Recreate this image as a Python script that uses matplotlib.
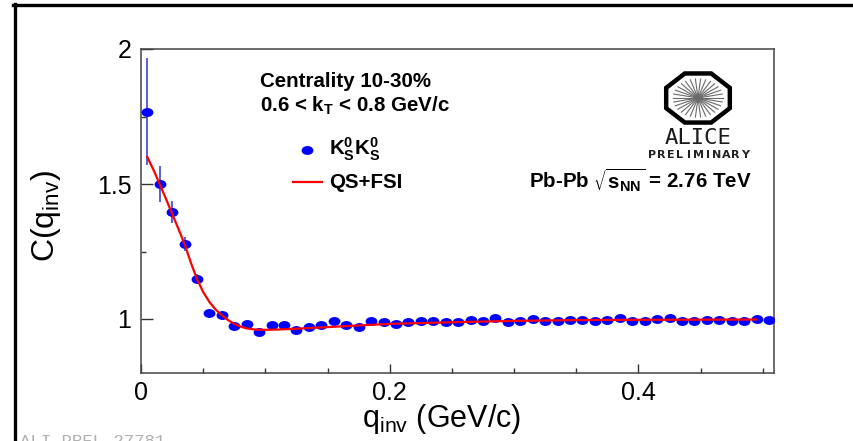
import numpy as np
import matplotlib
matplotlib.use("Agg")
import matplotlib.pyplot as plt
from matplotlib.path import Path
from matplotlib.transforms import Affine2D
from matplotlib.lines import Line2D
from matplotlib.patches import Polygon
from matplotlib.ticker import MultipleLocator, FixedLocator, FixedFormatter

plt.rcParams['font.family'] = ['Liberation Sans', 'DejaVu Sans']
plt.rcParams['mathtext.default'] = 'regular'

# K0s K0s correlation function, Pb-Pb 2.76 TeV, centrality 10-30%, 0.6<kT<0.8
q_inv = [0.005, 0.015, 0.025, 0.035, 0.045, 0.055, 0.065, 0.075, 0.085, 0.095,
         0.105, 0.115, 0.125, 0.135, 0.145, 0.155, 0.165, 0.175, 0.185, 0.195,
         0.205, 0.215, 0.225, 0.235, 0.245, 0.255, 0.265, 0.275, 0.285, 0.295,
         0.305, 0.315, 0.325, 0.335, 0.345, 0.355, 0.365, 0.375, 0.385, 0.395,
         0.405, 0.415, 0.425, 0.435, 0.445, 0.455, 0.465, 0.475, 0.485, 0.495,
         0.505]
c_q = [1.768, 1.500, 1.396, 1.278, 1.149, 1.023, 1.014, 0.975, 0.981, 0.951,
       0.977, 0.977, 0.961, 0.971, 0.976, 0.991, 0.977, 0.970, 0.992, 0.988,
       0.982, 0.988, 0.992, 0.992, 0.990, 0.988, 0.997, 0.994, 1.002, 0.990,
       0.993, 1.001, 0.993, 0.994, 0.996, 0.998, 0.993, 0.997, 1.003, 0.992,
       0.994, 1.001, 1.004, 0.993, 0.994, 0.998, 0.997, 0.992, 0.994, 1.001,
       0.998]
c_err = [0.197, 0.067, 0.042, 0.026, 0.017, 0.012, 0.010, 0.009, 0.008, 0.008,
         0.007, 0.007, 0.007, 0.007, 0.006, 0.006, 0.006, 0.006, 0.006, 0.006,
         0.005, 0.005, 0.005, 0.005, 0.005, 0.005, 0.005, 0.005, 0.005, 0.005,
         0.005, 0.005, 0.005, 0.005, 0.005, 0.005, 0.005, 0.005, 0.005, 0.005,
         0.005, 0.005, 0.005, 0.005, 0.005, 0.005, 0.005, 0.005, 0.005, 0.005,
         0.005]

# QS+FSI fit curve
fit_q = [0.005, 0.010, 0.015, 0.020, 0.025, 0.030, 0.035, 0.040, 0.045, 0.050,
         0.055, 0.060, 0.065, 0.070, 0.075, 0.080, 0.085, 0.090, 0.095, 0.100,
         0.110, 0.125, 0.150, 0.200, 0.250, 0.300, 0.350, 0.400, 0.495]
fit_c = [1.600, 1.553, 1.500, 1.446, 1.390, 1.335, 1.278, 1.210, 1.148, 1.100,
         1.063, 1.035, 1.014, 0.996, 0.982, 0.972, 0.965, 0.962, 0.960, 0.960,
         0.961, 0.964, 0.970, 0.982, 0.988, 0.993, 0.996, 0.997, 0.998]

x_ticks = [0, 0.2, 0.4]
x_ticklabels = ['0', '0.2', '0.4']
y_ticks = [1, 1.5, 2]
y_ticklabels = ['1', '1.5', '2']

W, H = 854, 441


def fx(px):
    return px / W


def fy(py):
    return 1 - py / H


fig = plt.figure(figsize=(W / 100, H / 100), dpi=100)

ax = fig.add_axes([fx(141), fy(373), (774 - 141) / W, (373 - 49) / H])

# ellipse marker (picture is squashed vertically)
ellipse = Path.unit_circle().transformed(Affine2D().scale(1.0, 0.72))

ax.errorbar(q_inv, c_q, yerr=c_err, fmt='none', ecolor='#2a36d6',
            elinewidth=1.1, capsize=0, zorder=2)
ax.plot(q_inv, c_q, ls='none', marker=ellipse, ms=7.5, color='#0000ff',
        mec='#0000ff', zorder=3)
ax.plot(fit_q, fit_c, color='#ff0000', lw=1.6, zorder=4)

ax.set_xlim(0, 0.509)
ax.set_ylim(0.8, 2.0)
ax.xaxis.set_major_locator(FixedLocator(x_ticks))
ax.xaxis.set_major_formatter(FixedFormatter(x_ticklabels))
ax.yaxis.set_major_locator(FixedLocator(y_ticks))
ax.yaxis.set_major_formatter(FixedFormatter(y_ticklabels))
ax.xaxis.set_minor_locator(MultipleLocator(0.05))
ax.yaxis.set_minor_locator(MultipleLocator(0.25))
ax.tick_params(which='both', direction='in', top=False, right=False,
               color='#333333', width=1.0, labelsize=18)
ax.tick_params(axis='x', which='major', length=6.5, pad=6)
ax.tick_params(axis='x', which='minor', length=3.6)
ax.tick_params(axis='y', which='major', length=8.6, pad=7)
ax.tick_params(axis='y', which='minor', length=3.6)
for s in ax.spines.values():
    s.set_color('#444444')
    s.set_linewidth(1.1)

# axis titles
fig.text(fx(362), fy(427), r'q$_{inv}$ (GeV/c)', fontsize=22, va='baseline', ha='left')
fig.text(fx(46), fy(216), r'C(q$_{inv}$)', fontsize=23, rotation=90,
         va='center', ha='center')

# annotations
fs = 14.8
fig.text(fx(260), fy(87), 'Centrality 10-30%', fontsize=fs, fontweight='bold', va='baseline')
fig.text(fx(260), fy(112), r'0.6 < k$_{T}$ < 0.8 GeV/c', fontsize=fs,
         fontweight='bold', va='baseline')
fig.text(fx(329), fy(155), r'K$^{0}_{S}$K$^{0}_{S}$', fontsize=fs, fontweight='bold',
         va='baseline')
fig.text(fx(329), fy(188), 'QS+FSI', fontsize=fs, fontweight='bold', va='baseline')
fig.text(fx(529), fy(188), r'Pb-Pb $\sqrt{s_{NN}}$ = 2.76 TeV', fontsize=fs,
         fontweight='bold', va='baseline')

# legend symbols
fig.add_artist(Line2D([fx(307)], [fy(150)], ls='none', marker=ellipse, ms=7.5,
                      color='#0000ff'))
fig.add_artist(Line2D([fx(293), fx(322)], [fy(182), fy(182)], color='#ff0000', lw=1.6))

# ALICE logo
lax = fig.add_axes([fx(663), fy(125), 70 / W, 54 / H])
lax.set_xlim(-1.1, 1.1)
lax.set_ylim(-1.1, 1.1)
lax.axis('off')
ang = np.deg2rad(22.5 + 45 * np.arange(8))
lax.add_patch(Polygon(np.column_stack([np.cos(ang), np.sin(ang)]) / np.cos(np.pi / 8),
                      closed=True, fill=False, lw=3.2, ec='black', joinstyle='miter'))
for a in np.deg2rad(np.arange(0, 180, 12)):
    lax.plot([-0.78 * np.cos(a), 0.78 * np.cos(a)], [-0.78 * np.sin(a), 0.78 * np.sin(a)],
             color='#6a6a6a', lw=0.8)
fig.text(fx(698), fy(144), 'ALICE', fontsize=16, family='DejaVu Sans Mono',
         ha='center', va='baseline', color='#1a1a1a')
for ch, xp in zip('PRELIMINARY', np.linspace(652, 745, 11)):
    fig.text(fx(xp), fy(158), ch, fontsize=8, family='DejaVu Sans', fontweight='bold',
             ha='center', va='baseline', color='#222222')

# frame of the picture
fig.add_artist(Line2D([fx(14.5), fx(14.5)], [0, fy(3.5)], color='black', lw=2.4))
fig.add_artist(Line2D([fx(13.3), 1], [fy(5), fy(5)], color='black', lw=2.4))

fig.text(fx(20), fy(434), 'ALI-PREL-27781', fontsize=12.5, family='Liberation Mono',
         color='#b0b0b0', va='top', ha='left')

fig.savefig('out.png', dpi=100)
